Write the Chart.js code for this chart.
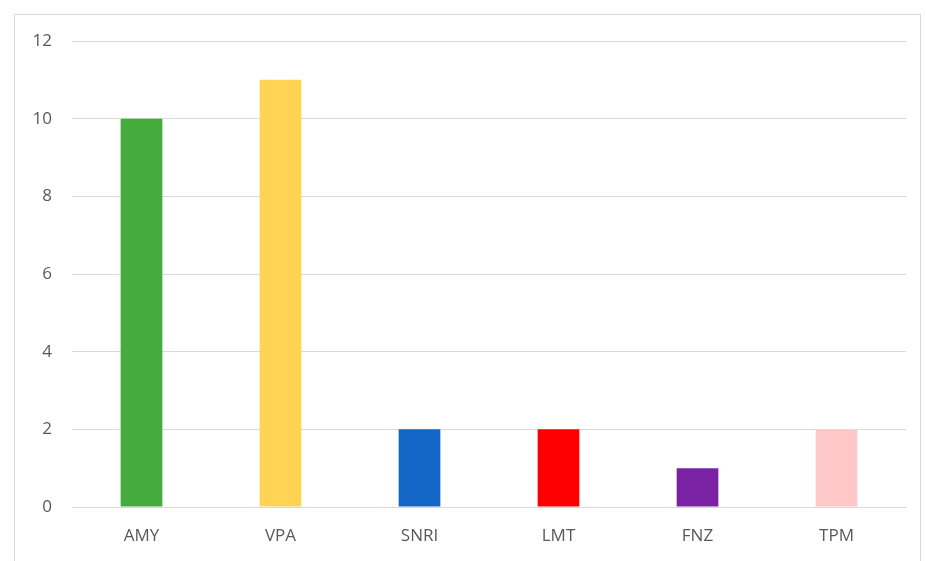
<!DOCTYPE html>
<html>
<head>
<meta charset="utf-8">
<script src="https://cdn.jsdelivr.net/npm/chart.js@4"></script>
<style>
  html, body { margin: 0; padding: 0; background: #fff; }
  #wrap { position: relative; width: 926px; height: 561px; }
  #frame { position: absolute; left: 14px; top: 14px; width: 907px; height: 560px;
           border: 1px solid #d9d9d9; box-sizing: border-box; }
  #chart { position: absolute; left: 0; top: 0; }
</style>
</head>
<body>
<div id="wrap">
  <div id="frame"></div>
  <canvas id="chart" width="926" height="561"></canvas>
</div>
<script>
// chart data
var drugs = ['AMY', 'VPA', 'SNRI', 'LMT', 'FNZ', 'TPM'];
var counts = [10, 11, 2, 2, 1, 2];
var barColors = ['#43ac3c', '#ffd454', '#1467c7', '#ff0000', '#7a22a3', '#ffc8c8'];
var yTicks = [0, 2, 4, 6, 8, 10, 12];

var ctx = document.getElementById('chart').getContext('2d');
var chart = new Chart(ctx, {
  type: 'bar',
  data: {
    labels: drugs,
    datasets: [{
      data: counts,
      backgroundColor: barColors,
      borderWidth: 0,
      barPercentage: 0.3,
      categoryPercentage: 1.0
    }]
  },
  options: {
    responsive: false,
    animation: false,
    layout: { padding: { left: 0, right: 20, top: 41, bottom: 0 } },
    plugins: { legend: { display: false }, tooltip: { enabled: false } },
    scales: {
      x: {
        grid: { display: false },
        border: { display: false },
        ticks: { color: '#595959', font: { family: 'Open Sans', size: 17 }, padding: 11 },
        afterFit: function(scale){ scale.height = 54; }
      },
      y: {
        min: 0,
        max: 12,
        afterBuildTicks: function(scale){
          scale.ticks = yTicks.map(function(v){ return { value: v }; });
        },
        grid: { color: '#d9d9d9', lineWidth: 1, drawTicks: false },
        border: { display: false },
        ticks: { color: '#595959', font: { family: 'Open Sans', size: 17 }, padding: 20 },
        afterFit: function(scale){ scale.width = 72; }
      }
    }
  }
});
</script>
</body>
</html>
